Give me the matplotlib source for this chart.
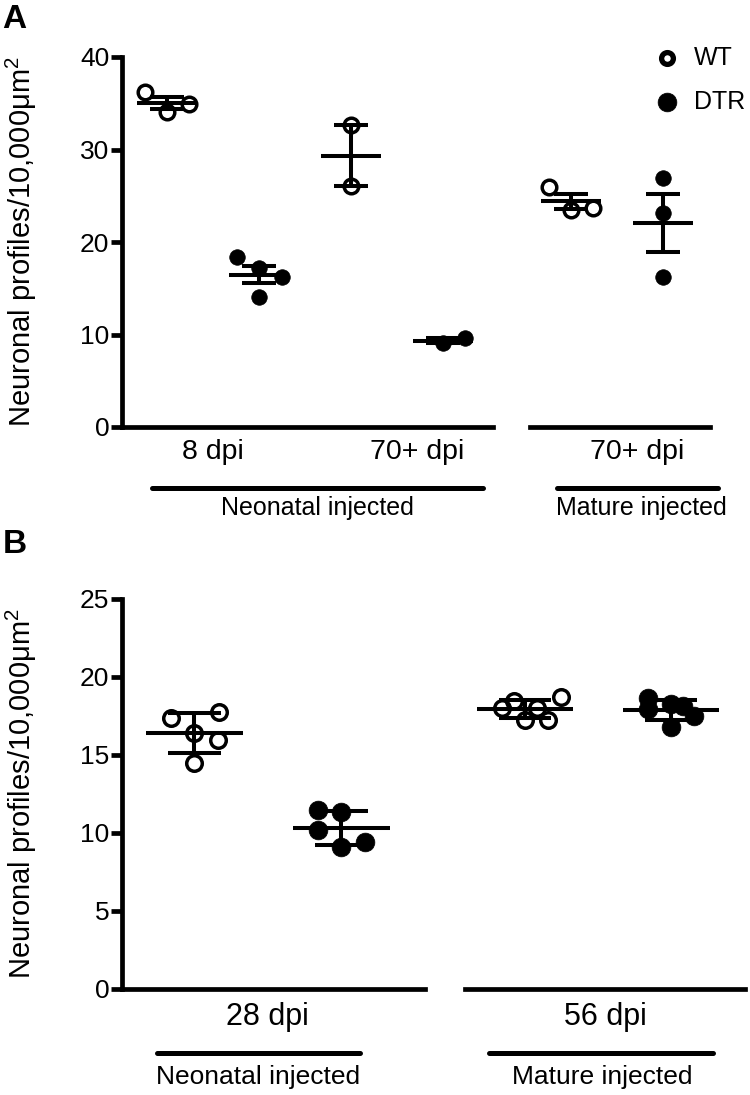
import numpy as np
import matplotlib
matplotlib.use('Agg')
import matplotlib.pyplot as plt

plt.rcParams['font.family'] = ['Liberation Sans', 'DejaVu Sans']
plt.rcParams['mathtext.fontset'] = 'custom'
plt.rcParams['mathtext.rm'] = 'Liberation Sans'
plt.rcParams['mathtext.it'] = 'Liberation Sans:italic'

# panel A - neuronal profiles / 10,000 um^2, error bars = SEM
a_neo_geno = ['WT', 'DTR', 'WT', 'DTR']
a_neo = [[36.2, 34.05, 34.9],
         [18.4, 17.2, 16.2, 14.05],
         [32.6, 26.1],
         [9.1, 9.6]]
a_mat_geno = ['WT', 'DTR']
a_mat = [[26.0, 23.5, 23.7],
         [26.9, 23.1, 16.2]]
a_neo_labels = ['8 dpi', '70+ dpi']
a_mat_labels = ['70+ dpi']

# panel B - error bars = SD
b_neo_geno = ['WT', 'DTR']
b_neo = [[17.4, 17.75, 16.4, 15.95, 14.5],
         [11.45, 11.35, 10.2, 9.1, 9.4]]
b_mat_geno = ['WT', 'DTR']
b_mat = [[18.0, 18.45, 17.25, 18.0, 17.25, 18.7],
         [18.65, 17.95, 18.3, 18.15, 17.5, 16.8]]
b_neo_labels = ['28 dpi']
b_mat_labels = ['56 dpi']

ylab = r'Neuronal profiles/10,000μm$^2$'

# horizontal scatter of the dots inside each column (layout only)
a_neo_jit = [[-0.24, 0, 0.24], [-0.24, 0, 0.25, 0], [0, 0], [0, 0.24]]
a_mat_jit = [[-0.24, 0, 0.24], [0, 0, 0]]
b_neo_jit = [[-0.16, 0.17, 0, 0.16, 0], [-0.16, 0, -0.16, 0, 0.16]]
b_mat_jit = [[-0.16, -0.075, 0, 0.08, 0.16, 0.25], [-0.16, -0.16, 0, 0.08, 0.16, 0]]

W, H = 750, 1095
fig = plt.figure(figsize=(W / 100, H / 100), dpi=100)


def rect(x0, x1, ytop, ybot):
    return [x0 / W, 1 - ybot / H, (x1 - x0) / W, (ybot - ytop) / H]


def setup(ax, xlim, ylim, yticks, left=True):
    ax.set_xlim(*xlim)
    ax.set_ylim(*ylim)
    ax.spines['top'].set_visible(False)
    ax.spines['right'].set_visible(False)
    ax.spines['bottom'].set_linewidth(3.4)
    ax.spines['left'].set_linewidth(3.4)
    ax.set_xticks([])
    if left:
        ax.set_yticks(yticks)
        ax.tick_params(axis='y', length=8, width=3.4, pad=1, labelsize=19)
    else:
        ax.spines['left'].set_visible(False)
        ax.set_yticks([])
    ax.patch.set_alpha(0)


def group(ax, x, vals, jit, geno, sem, ms_wt, ms_dtr):
    vals = np.array(vals)
    m = vals.mean()
    e = vals.std(ddof=1)
    if sem:
        e = e / np.sqrt(len(vals))
    if geno == 'WT':
        ax.plot(x + np.array(jit), vals, 'o', mfc='none', mec='k', ms=ms_wt, mew=2.5,
                zorder=3, clip_on=False)
    else:
        ax.plot(x + np.array(jit), vals, 'o', mfc='k', mec='k', ms=ms_dtr, mew=0.5,
                zorder=3, clip_on=False)
    kw = dict(color='k', lw=2.9, capstyle='butt', zorder=4)
    ax.hlines(m, x - 0.33, x + 0.33, **kw)
    ax.vlines(x, m - e, m + e, **kw)
    ax.hlines([m - e, m + e], x - 0.18, x + 0.18, **kw)


def bracket(ax, x0, x1, y):
    ax.plot([x0, x1], [y, y], color='k', lw=3.6, solid_capstyle='round',
            transform=ax.get_xaxis_transform(), clip_on=False)


def label(ax, x, y, s, size):
    ax.text(x, y, s, transform=ax.get_xaxis_transform(), ha='center', va='center', fontsize=size)


# ---- panel A
ax_a1 = fig.add_axes(rect(122, 493, 57, 427))
ax_a2 = fig.add_axes(rect(530, 710, 57, 427))
setup(ax_a1, (0.511, 4.543), (0, 40), [0, 10, 20, 30, 40])
setup(ax_a2, (0.554, 2.511), (0, 40), [], left=False)

for i in range(len(a_neo)):
    group(ax_a1, i + 1, a_neo[i], a_neo_jit[i], a_neo_geno[i], True, 10.5, 11.2)
for i in range(len(a_mat)):
    group(ax_a2, i + 1, a_mat[i], a_mat_jit[i], a_mat_geno[i], True, 10.5, 11.2)

label(ax_a1, 1.5, -0.068, a_neo_labels[0], 20.5)
label(ax_a1, 3.72, -0.068, a_neo_labels[1], 20.5)
label(ax_a2, 1.72, -0.068, a_mat_labels[0], 20.5)
bracket(ax_a1, 0.84, 4.43, -0.165)
bracket(ax_a2, 0.85, 2.60, -0.165)
label(ax_a1, 2.63, -0.22, 'Neonatal injected', 18)
label(ax_a2, 1.77, -0.22, 'Mature injected', 18)

# legend
ax_a2.plot([2.04], [39.9], 'o', mfc='none', mec='k', ms=8.5, mew=3.8, clip_on=False)
ax_a2.plot([2.04], [35.1], 'o', mfc='k', mec='k', ms=13.5, mew=0.5, clip_on=False)
ax_a2.text(2.34, 39.9, 'WT', va='center', ha='left', fontsize=18)
ax_a2.text(2.34, 35.1, 'DTR', va='center', ha='left', fontsize=18)

# ---- panel B
ax_b1 = fig.add_axes(rect(122, 425, 599, 989))
ax_b2 = fig.add_axes(rect(465, 745, 599, 989))
setup(ax_b1, (0.51, 2.571), (0, 25), [0, 5, 10, 15, 20, 25])
setup(ax_b2, (0.589, 2.507), (0, 25), [], left=False)

for i in range(len(b_neo)):
    group(ax_b1, i + 1, b_neo[i], b_neo_jit[i], b_neo_geno[i], False, 11.2, 13.5)
for i in range(len(b_mat)):
    group(ax_b2, i + 1, b_mat[i], b_mat_jit[i], b_mat_geno[i], False, 11.2, 13.5)

label(ax_b1, 1.5, -0.072, b_neo_labels[0], 22)
label(ax_b2, 1.55, -0.072, b_mat_labels[0], 22)
bracket(ax_b1, 0.75, 2.13, -0.164)
bracket(ax_b2, 0.75, 2.29, -0.164)
label(ax_b1, 1.435, -0.226, 'Neonatal injected', 19)
label(ax_b2, 1.527, -0.226, 'Mature injected', 19)

# y labels and panel letters
fig.text(21 / W, 1 - 242 / H, ylab, rotation=90, ha='center', va='center', fontsize=21)
fig.text(21 / W, 1 - 794 / H, ylab, rotation=90, ha='center', va='center', fontsize=21)
fig.text(2 / W, 1 - 4 / H, 'A', ha='left', va='top', fontsize=24, fontweight='bold')
fig.text(3 / W, 1 - 529 / H, 'B', ha='left', va='top', fontsize=24, fontweight='bold')

fig.savefig('out.png', dpi=100)
